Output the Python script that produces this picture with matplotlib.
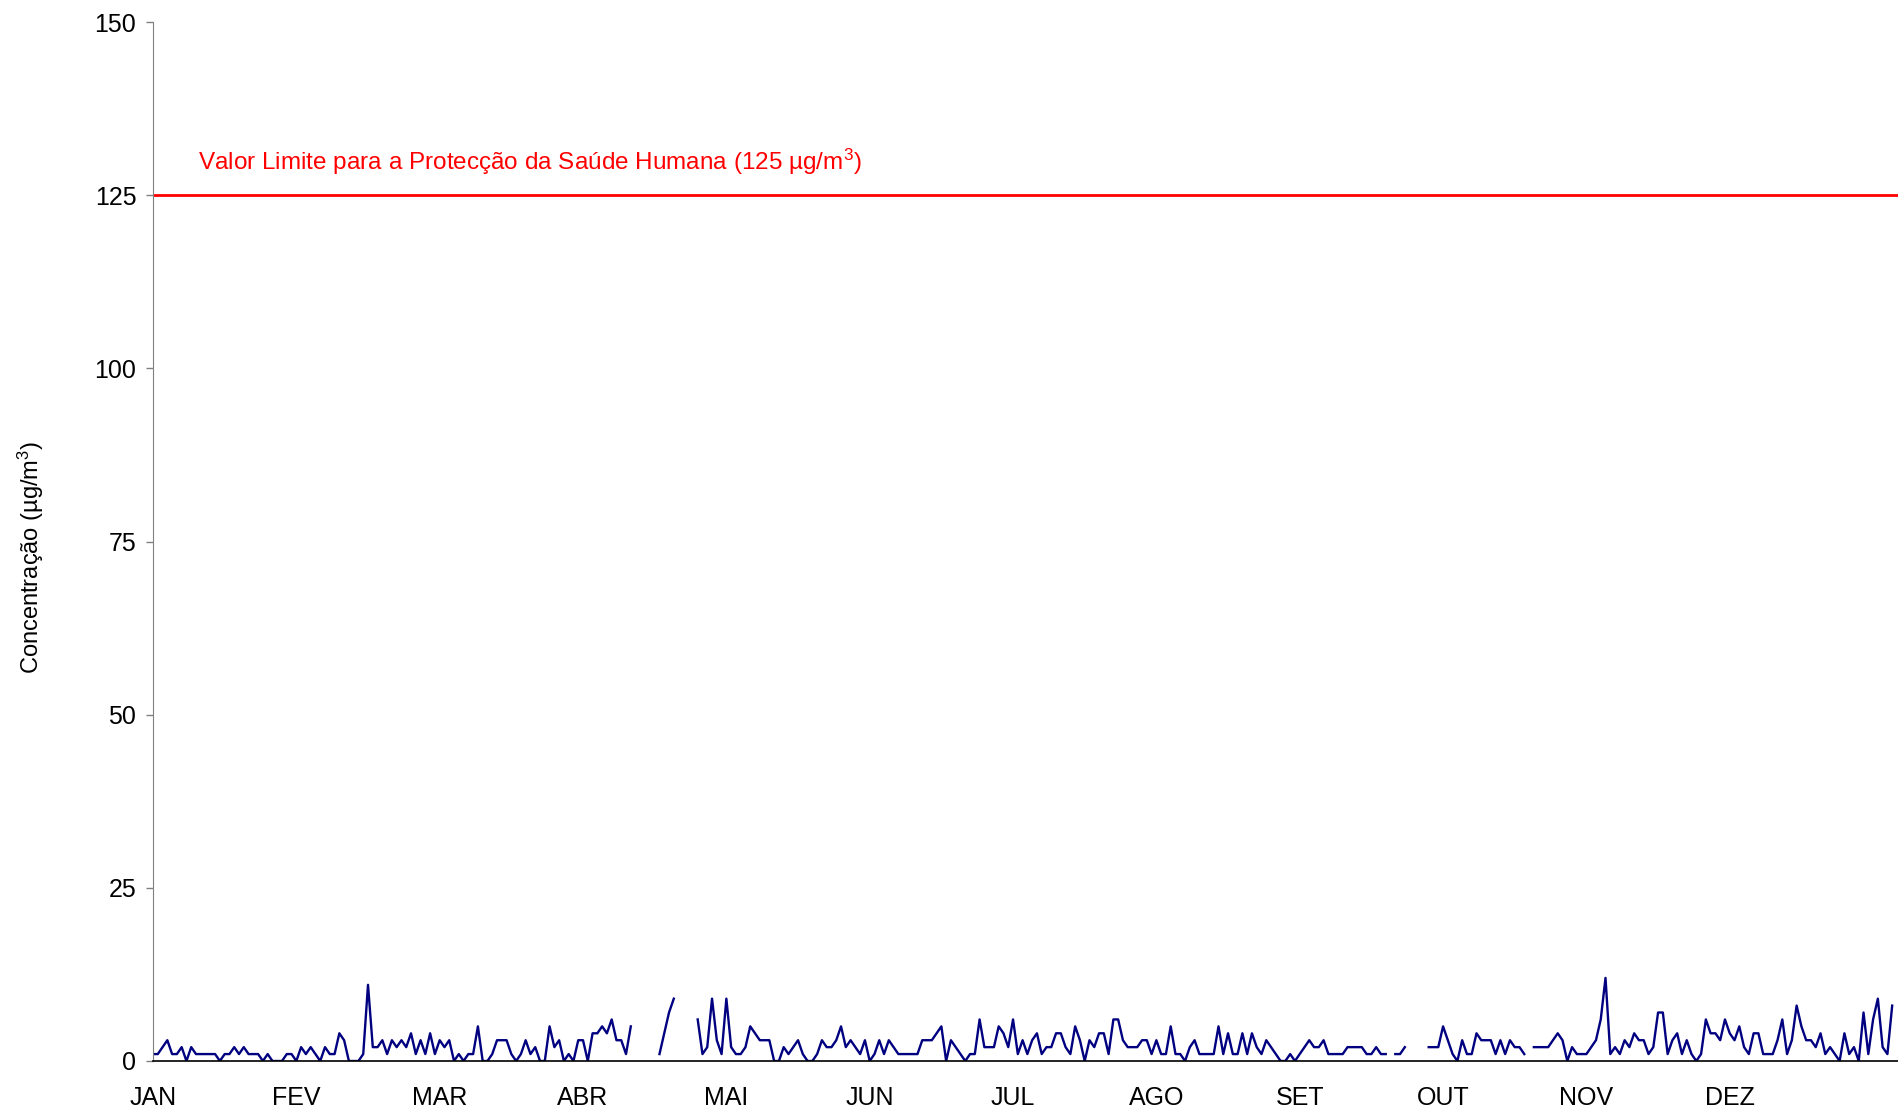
import numpy as np
import matplotlib
matplotlib.use("Agg")
import matplotlib.pyplot as plt

plt.rcParams["font.family"] = ["Liberation Sans", "DejaVu Sans"]
plt.rcParams["mathtext.fontset"] = "custom"
plt.rcParams["mathtext.rm"] = "Liberation Sans"
plt.rcParams["mathtext.it"] = "Liberation Sans:italic"

# Concentrações diárias (µg/m³); None = sem dados
jan = [1, 1, 2, 3, 1, 1, 2, 0, 2, 1, 1, 1, 1, 1, 0, 1, 1, 2, 1, 2,
       1, 1, 1, 0, 1, 0, 0, 0, 1, 1, 0]
fev = [2, 1, 2, 1, 0, 2, 1, 1, 4, 3, 0, 0, 0, 1, 11, 2, 2, 3, 1, 3,
       2, 3, 2, 4, 1, 3, 1, 4]
mar = [1, 3, 2, 3, 0, 1, 0, 1, 1, 5, 0, 0, 1, 3, 3, 3, 1, 0, 1, 3,
       1, 2, 0, 0, 5, 2, 3, 0, 1, 0, 3]
abr = [3, 0, 4, 4, 5, 4, 6, 3, 3, 1, 5, None, None, None, None, None, 1, 4, 7, 9,
       None, None, None, None, 6, 1, 2, 9, 3, 1]
mai = [9, 2, 1, 1, 2, 5, 4, 3, 3, 3, 0, 0, 2, 1, 2, 3, 1, 0, 0, 1,
       3, 2, 2, 3, 5, 2, 3, 2, 1, 3, 0]
jun = [1, 3, 1, 3, 2, 1, 1, 1, 1, 1, 3, 3, 3, 4, 5, 0, 3, 2, 1, 0,
       1, 1, 6, 2, 2, 2, 5, 4, 2, 6]
jul = [1, 3, 1, 3, 4, 1, 2, 2, 4, 4, 2, 1, 5, 3, 0, 3, 2, 4, 4, 1,
       6, 6, 3, 2, 2, 2, 3, 3, 1, 3, 1]
ago = [1, 5, 1, 1, 0, 2, 3, 1, 1, 1, 1, 5, 1, 4, 1, 1, 4, 1, 4, 2,
       1, 3, 2, 1, 0, 0, 1, 0, 1, 2, 3]
set_ = [2, 2, 3, 1, 1, 1, 1, 2, 2, 2, 2, 1, 1, 2, 1, 1, None, 1, 1, 2,
        None, None, None, None, 2, 2, 2, 5, 3, 1]
out = [0, 3, 1, 1, 4, 3, 3, 3, 1, 3, 1, 3, 2, 2, 1, None, 2, 2, 2, 2,
       3, 4, 3, 0, 2, 1, 1, 1, 2, 3, 6]
nov = [12, 1, 2, 1, 3, 2, 4, 3, 3, 1, 2, 7, 7, 1, 3, 4, 1, 3, 1, 0,
       1, 6, 4, 4, 3, 6, 4, 3, 5, 2]
dez = [1, 4, 4, 1, 1, 1, 3, 6, 1, 3, 8, 5, 3, 3, 2, 4, 1, 2, 1, 0,
       4, 1, 2, 0, 7, 1, 6, 9, 2, 1, 8]

meses = ["JAN", "FEV", "MAR", "ABR", "MAI", "JUN",
         "JUL", "AGO", "SET", "OUT", "NOV", "DEZ"]
LIMITE = 125

valores = jan + fev + mar + abr + mai + jun + jul + ago + set_ + out + nov + dez
conc = np.array([np.nan if v is None else v for v in valores], dtype=float)
dias = np.arange(len(conc))

fig = plt.figure(figsize=(18.99, 11.12), dpi=100)
ax = fig.add_axes([153 / 1899, 51 / 1112, 1 - 153 / 1899, 1039 / 1112])

ax.plot(dias, conc, color="#000080", linewidth=1.7)
ax.axhline(LIMITE, color="#FF0000", linewidth=2.0)
ax.text(9.4, 128.6, f"Valor Limite para a Protecção da Saúde Humana ({LIMITE} µg/m$^{{3}}$)",
        color="#FF0000", fontsize=17.5, va="baseline", ha="left")

ax.set_xlim(0, 1746 / 4.778)
ax.set_ylim(0, 150)
ax.set_yticks(np.arange(0, 151, 25))
ax.set_xticks(np.arange(0, 360, 30))
ax.set_xticklabels(meses)

ax.spines["top"].set_visible(False)
ax.spines["right"].set_visible(False)
ax.spines["left"].set_color("#808080")
ax.spines["bottom"].set_color("black")
ax.spines["bottom"].set_linewidth(1.2)
ax.tick_params(axis="y", length=5, width=1, color="#808080", pad=7, labelsize=18)
ax.tick_params(axis="x", length=0, pad=18, labelsize=18)

fig.text(31 / 1899, 1 - 557 / 1112, "Concentração (µg/m$^{3}$)", rotation=90,
         ha="center", va="center", fontsize=17)

fig.savefig("out.png", dpi=100)
